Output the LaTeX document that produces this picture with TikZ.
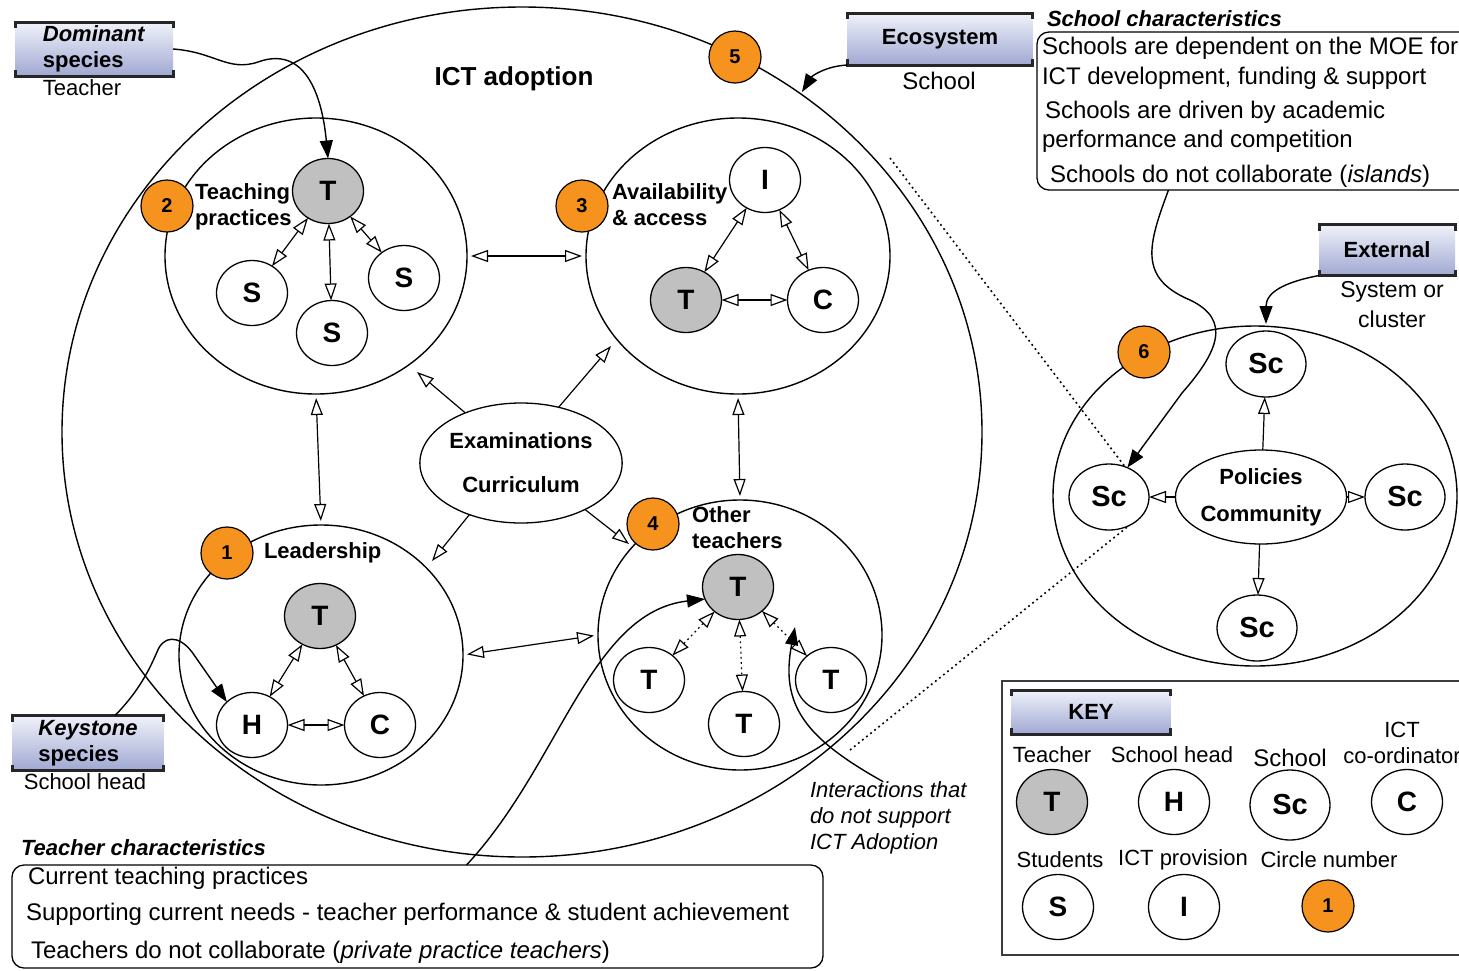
\documentclass[tikz,border=0pt]{standalone}
\usepackage{fontspec}
\setmainfont{Liberation Sans}
\usetikzlibrary{arrows.meta,shapes.geometric}
\definecolor{numorange}{RGB}{246,146,30}
\definecolor{teachergray}{RGB}{192,192,192}
\definecolor{bannertop}{RGB}{240,242,250}
\definecolor{bannerbottom}{RGB}{160,168,210}
\definecolor{keyline}{RGB}{60,60,60}
\newcommand{\fsz}[2]{\fontsize{#1}{#2}\selectfont}
% thick bracket-style rules above and below a banner node
\newcommand{\bannerframe}[1]{%
  \draw[line width=3pt, draw=black!85]
    ([yshift=-6pt]#1.north west) -- (#1.north west) -- (#1.north east) -- ([yshift=-6pt]#1.north east);
  \draw[line width=3pt, draw=black!85]
    ([yshift=6pt]#1.south west) -- (#1.south west) -- (#1.south east) -- ([yshift=6pt]#1.south east);
}
\tikzset{
  every node/.style={inner sep=0pt, outer sep=0pt},
  agent/.style={ellipse, draw, line width=1.3pt, fill=white,
    minimum width=71pt, minimum height=65pt, font=\fsz{28}{32}\bfseries},
  teacher/.style={agent, fill=teachergray},
  school/.style={agent, minimum width=80pt, minimum height=66pt, font=\fsz{29}{32}\bfseries},
  num/.style={circle, draw, line width=1.2pt, fill=numorange, minimum size=52pt, font=\fsz{20}{22}\bfseries},
  habitat/.style={ellipse, draw, line width=1.4pt},
  hub/.style={ellipse, draw, line width=1.3pt, fill=white, align=center},
  link/.style={line width=1.2pt, {Triangle[open,length=17pt,width=12pt]}-{Triangle[open,length=17pt,width=12pt]}},
  gaplink/.style={link, shorten <=4pt, shorten >=4pt},
  push/.style={line width=1.2pt, -{Triangle[open,length=17pt,width=12pt]}},
  weaklink/.style={link, dash pattern=on 1.8pt off 3.4pt},
  pointer/.style={line width=1.4pt, -{Triangle[length=18pt,width=13pt]}},
  projection/.style={line width=1.6pt, dash pattern=on 1.8pt off 3.4pt},
  banner/.style={rectangle, top color=bannertop, bottom color=bannerbottom, font=\fsz{22}{26}\bfseries, align=left},
  caption/.style={font=\fsz{22}{26}, align=center},
  heading/.style={font=\fsz{22}{26}\bfseries, align=left, anchor=west},
  boxline/.style={font=\fsz{24}{28}, anchor=west, text height=17pt, text depth=5pt},
  boxtitle/.style={font=\fsz{22}{26}\bfseries\itshape, anchor=west},
}
\begin{document}
\begin{tikzpicture}[x=1pt,y=-1pt]
\useasboundingbox (0,0) rectangle (1459,970);
\clip (0,0) rectangle (1459,970);
\fill[white] (0,0) rectangle (1459,970);

% ---------- characteristic boxes and key frame ----------
\node[draw, line width=1.3pt, rounded corners=12pt, minimum width=453pt, minimum height=158pt] (schoolbox) at (1263.5,111) {};
\node[draw, line width=1.3pt, rounded corners=12pt, minimum width=811pt, minimum height=103pt] (tbox) at (417.5,916.5) {};
\node[draw=keyline, line width=2pt, minimum width=488pt, minimum height=274pt] (keybox) at (1246,818) {};

% ---------- habitats ----------
\node[habitat, minimum width=920pt, minimum height=850pt] (eco) at (522,432) {};
\node[font=\fsz{26}{30}\bfseries] (ictlabel) at (514,79) {ICT adoption};

\node[habitat, minimum width=302pt, minimum height=276pt] (c2) at (316,256) {};
\node[habitat, minimum width=304pt, minimum height=276pt] (c3) at (738,256) {};
\node[habitat, minimum width=284pt, minimum height=260pt] (c1) at (321,655) {};
\node[habitat, minimum width=284pt, minimum height=270pt] (c4) at (740,635) {};
\node[habitat, minimum width=404pt, minimum height=340pt] (c6) at (1255,496) {};

\node[hub, minimum width=202pt, minimum height=120pt, font=\fsz{22}{44}\bfseries] (exam) at (521,463) {Examinations\\Curriculum};

% ---------- circle 2: teaching practices ----------
\node[teacher] (t2) at (328,191) {T};
\node[agent] (s2a) at (252,293) {S};
\node[agent] (s2b) at (332,333) {S};
\node[agent] (s2c) at (404,278) {S};

% ---------- circle 3: availability & access ----------
\node[agent] (i3) at (765,180) {I};
\node[teacher] (t3) at (686,300) {T};
\node[agent] (k3) at (823,300) {C};

% ---------- circle 1: leadership ----------
\node[teacher] (t1) at (320,616) {T};
\node[agent] (h1) at (252,725) {H};
\node[agent] (k1) at (380,725) {C};

% ---------- circle 4: other teachers ----------
\node[teacher] (t4) at (738,587) {T};
\node[agent] (t4a) at (649,680) {T};
\node[agent] (t4b) at (744,724) {T};
\node[agent] (t4c) at (831,680) {T};

% ---------- circle 6: system or cluster ----------
\node[hub, minimum width=148pt, minimum height=94pt, font=\fsz{22}{37}\bfseries] (pol) at (1261,497) {Policies\\Community};
\node[school] (sc6t) at (1266,364) {Sc};
\node[school] (sc6l) at (1109,497) {Sc};
\node[school] (sc6r) at (1405,497) {Sc};
\node[school] (sc6b) at (1257,628) {Sc};

% ---------- interactions inside circles ----------
\draw[link] (t2) -- (s2a);
\draw[link] (t2) -- (s2b);
\draw[link] (t2) -- (s2c);
\draw[link] (i3) -- (t3);
\draw[link] (i3) -- (k3);
\draw[link] (t3) -- (k3);
\draw[link] (t1) -- (h1);
\draw[link] (t1) -- (k1);
\draw[link] (h1) -- (k1);
\draw[weaklink] (t4) -- (t4a);
\draw[weaklink] (t4) -- (t4b);
\draw[weaklink] (t4) -- (t4c);
\draw[push] (pol) -- (sc6t);
\draw[push] (pol) -- (sc6l);
\draw[push] (pol) -- (sc6r);
\draw[push] (pol) -- (sc6b);

% ---------- links between circles ----------
\draw[gaplink] (c2.east) -- (c3.west);
\draw[gaplink] (c2.south) -- (c1.north);
\draw[gaplink] (c3.south) -- (c4.north);
\draw[gaplink] (c1.east) -- (c4.west);

\coordinate (toC2) at (417,372);
\coordinate (toC3) at (611,346);
\coordinate (toC1) at (432,561);
\coordinate (toC4) at (629,544);
\draw[push] (exam.138) -- (toC2);
\draw[push] (exam.56) -- (toC3);
\draw[push] (exam.225) -- (toC1);
\draw[push] (exam.-36) -- (toC4);

% ---------- circle numbers ----------
\node[num] (n2) at (167,206) {2};
\node[num] (n3) at (582,206) {3};
\node[num] (n1) at (227,553) {1};
\node[num] (n4) at (653,524) {4};
\node[num] (n5) at (735,57) {5};
\node[num] (n6) at (1144,352) {6};

\node[heading] (lab2) at (195,207) {Teaching\\practices};
\node[heading] (lab3) at (612,205) {Availability\\\& access};
\node[heading] (lab1) at (264,553) {Leadership};
\node[heading] (lab4) at (692,528) {Other\\teachers};

% ---------- banners ----------
\node[banner, minimum width=158pt, minimum height=54pt] (dom) at (94,49) {\textit{Dominant}\\species};
\bannerframe{dom}
\node[caption] (domcap) at (82,88) {Teacher};

\node[banner, minimum width=185pt, minimum height=52pt] (ecob) at (940,39) {Ecosystem};
\bannerframe{ecob}
\node[caption, font=\fsz{24}{28}] (ecocap) at (939,81) {School};

\node[banner, minimum width=136pt, minimum height=51pt] (extb) at (1387,250) {External};
\bannerframe{extb}
\node[caption, font=\fsz{23}{30}] (extcap) at (1392,305) {System or\\cluster};

\node[banner, minimum width=151pt, minimum height=55pt] (ksp) at (88,743) {\textit{Keystone}\\species};
\bannerframe{ksp}
\node[caption] (kspcap) at (85,782) {School head};

\node[banner, minimum width=159pt, minimum height=44pt] (keyb) at (1091,712) {KEY};
\bannerframe{keyb}

% ---------- pointers from banners and boxes ----------
\draw[pointer] (dom.east) .. controls (215,52) and (228,72) .. (258,62)
  .. controls (305,45) and (322,95) .. (t2.north);
\coordinate (ecotip) at (802,92);
\draw[pointer] (ecob.south west) .. controls (826,66) and (812,76) .. (ecotip);
\coordinate (exttip) at (1266,324);
\draw[pointer] (extb.south west) .. controls (1285,282) and (1266,292) .. (exttip);
\draw[pointer] ([xshift=-95pt]schoolbox.south) .. controls (1148,245) and (1138,278) .. (1190,300)
  .. controls (1232,320) and (1218,352) .. (1182,393) -- (sc6l.58);
\draw[pointer] ([xshift=27pt]ksp.north) .. controls (140,690) and (150,668) .. (157,652)
  .. controls (163,636) and (178,634) .. (192,652) -- (h1.north west);
\draw[pointer] ([xshift=49pt]tbox.north) .. controls (560,765) and (590,612) .. (t4.200);

\node[font=\fsz{22}{26}\itshape, align=left, anchor=west] (inter) at (810,818) {Interactions that\\do not support\\ICT Adoption};
\coordinate (weaktip) at (795,627);
\draw[pointer] ([xshift=-5pt]inter.north) .. controls (805,738) and (780,705) .. (weaktip);

% ---------- projection from the school to the cluster ----------
\coordinate (projA) at (890,158);
\coordinate (projB) at (850,750);
\draw[projection] (projA) -- (sc6l.62);
\draw[projection] (projB) -- (sc6l.-55);

% ---------- school characteristics ----------
\node[boxtitle] (schtitle) at (1047,19) {School characteristics};
\node[boxline] (sch1) at (1042,48) {Schools are dependent on the MOE for};
\node[boxline] (sch2) at (1042,78) {ICT development, funding \& support};
\node[boxline] (sch3) at (1045,112) {Schools are driven by academic};
\node[boxline] (sch4) at (1042,141) {performance and competition};
\node[boxline] (sch5) at (1050,176) {Schools do not collaborate (\textit{islands})};

% ---------- teacher characteristics ----------
\node[boxtitle] (tchtitle) at (21,848) {Teacher characteristics};
\node[boxline] (tch1) at (28,878) {Current teaching practices};
\node[boxline] (tch2) at (26,914) {Supporting current needs - teacher performance \& student achievement};
\node[boxline] (tch3) at (31,952) {Teachers do not collaborate (\textit{private practice teachers})};

% ---------- key ----------
\node[caption] (keyT) at (1052,755) {Teacher};
\node[teacher] (keyTn) at (1052,802) {T};
\node[caption] (keyH) at (1172,755) {School head};
\node[agent] (keyHn) at (1174,802) {H};
\node[caption, font=\fsz{24}{28}] (keySc) at (1290,758) {School};
\node[school, minimum height=70pt] (keyScn) at (1290,805) {Sc};
\node[caption] (keyC) at (1402,743) {ICT\\co-ordinator};
\node[agent] (keyCn) at (1407,802) {C};
\node[caption] (keyS) at (1060,860) {Students};
\node[agent] (keySn) at (1058,907) {S};
\node[caption] (keyI) at (1183,860) {ICT provision};
\node[agent] (keyIn) at (1184,907) {I};
\node[caption] (keyN) at (1329,860) {Circle number};
\node[num] (keyNn) at (1328,906) {1};
\end{tikzpicture}
\end{document}
